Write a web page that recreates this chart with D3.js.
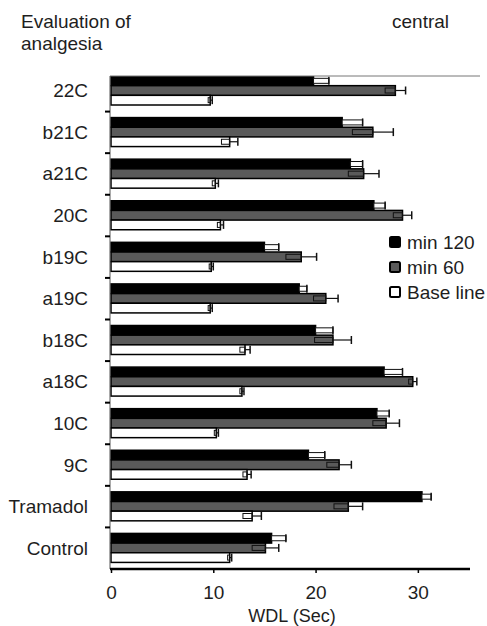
<!DOCTYPE html>
<html>
<head>
<meta charset="utf-8">
<script src="https://cdn.jsdelivr.net/npm/d3@7"></script>
<style>
  body { margin: 0; background: #fff; }
  svg text { font-family: "Liberation Sans", Arial, sans-serif; fill: #1e1e1e; }
</style>
</head>
<body>
<svg id="chart" width="487" height="626"></svg>
<script>
// categories top to bottom
const categories = ["22C", "b21C", "a21C", "20C", "b19C", "a19C", "b18C", "a18C", "10C", "9C", "Tramadol", "Control"]
const seriesNames = ["min 120", "min 60", "Base line"]
const seriesFill = ["#000000", "#5a5a5a", "#ffffff"]

// means (sec)
const min120 = [19.8, 22.6, 23.4, 25.7, 15.0, 18.4, 20.0, 26.7, 26.0, 19.3, 30.4, 15.7]
const min60 = [27.8, 25.6, 24.7, 28.5, 18.6, 21.0, 21.7, 29.5, 26.9, 22.3, 23.2, 15.1]
const baseLine = [9.7, 11.6, 10.2, 10.7, 9.8, 9.7, 13.1, 12.8, 10.3, 13.3, 13.8, 11.6]
// error (sec)
const err120 = [1.5, 2.0, 1.2, 1.1, 1.4, 0.75, 1.7, 1.8, 1.2, 1.6, 0.9, 1.4]
const err60 = [1.0, 2.0, 1.5, 0.9, 1.5, 1.2, 1.8, 0.4, 1.3, 1.2, 1.4, 1.3]
const errBase = [0.2, 0.8, 0.3, 0.3, 0.2, 0.2, 0.5, 0.2, 0.2, 0.4, 0.9, 0.2]

const xTicks = [0, 10, 20, 30]

const values = [min120, min60, baseLine]
const errors = [err120, err60, errBase]

const svg = d3.select("#chart")

const x = d3.scaleLinear().domain([0, 35]).range([111, 469])
const y = d3.scaleBand().domain(categories).range([70, 569])
const yInner = d3.scaleBand().domain(seriesNames).range([6, 35])

const plotTop = 76
const fontSize = "19px"

svg.append("clipPath").attr("id", "clip")
  .append("rect")
  .attr("x", 100).attr("y", plotTop)
  .attr("width", 387).attr("height", 569 - plotTop)

const plot = svg.append("g").attr("clip-path", "url(#clip)")

categories.forEach((cat, ci) => {
  const g = plot.append("g").attr("transform", `translate(0,${y(cat)})`)
  seriesNames.forEach((s, si) => {
    const m = values[si][ci]
    const e = errors[si][ci]
    const by = yInner(s)
    const bh = yInner.bandwidth()
    const cy = by + bh / 2
    g.append("rect")
      .attr("x", x(0))
      .attr("y", by)
      .attr("width", x(m) - x(0))
      .attr("height", bh)
      .attr("fill", seriesFill[si])
      .attr("stroke", "#000")
      .attr("stroke-width", 1.5)
    if (si == 0) {
      // black bars: open box past the bar end
      g.append("rect")
        .attr("x", x(m))
        .attr("y", cy - 2.5)
        .attr("width", x(m + e) - x(m))
        .attr("height", 5)
        .attr("fill", "#fff")
        .attr("stroke", "#111")
        .attr("stroke-width", 1)
    } else {
      // box on the bar end, whisker beyond
      g.append("rect")
        .attr("x", x(m - e))
        .attr("y", cy - 2.5)
        .attr("width", x(m) - x(m - e))
        .attr("height", 5)
        .attr("fill", "none")
        .attr("stroke", "#111")
        .attr("stroke-width", 1)
      g.append("line")
        .attr("x1", x(m)).attr("x2", x(m + e))
        .attr("y1", cy).attr("y2", cy)
        .attr("stroke", "#111").attr("stroke-width", 1.2)
    }
    g.append("line")
      .attr("x1", x(m + e)).attr("x2", x(m + e))
      .attr("y1", cy - 4).attr("y2", cy + 4)
      .attr("stroke", "#111").attr("stroke-width", 1.5)
  })
})

// top border line
svg.append("line")
  .attr("x1", 110).attr("x2", 480)
  .attr("y1", plotTop).attr("y2", plotTop)
  .attr("stroke", "#777").attr("stroke-width", 1)

// left axis
svg.append("line")
  .attr("x1", 110).attr("x2", 110)
  .attr("y1", plotTop).attr("y2", 569)
  .attr("stroke", "#555").attr("stroke-width", 1)

categories.slice(1).forEach(cat => {
  svg.append("line")
    .attr("x1", 105).attr("x2", 110)
    .attr("y1", y(cat)).attr("y2", y(cat))
    .attr("stroke", "#000").attr("stroke-width", 2)
})

svg.append("g")
  .selectAll("text")
  .data(categories)
  .join("text")
  .attr("x", 88)
  .attr("y", d => y(d) + y.bandwidth() / 2 + 6.5)
  .attr("text-anchor", "end")
  .style("font-size", fontSize)
  .text(d => d)

// bottom axis
const xAxis = d3.axisBottom(x).tickValues(xTicks).tickSize(4).tickPadding(13)
const ax = svg.append("g").attr("transform", "translate(0,569)").call(xAxis)
ax.select(".domain").attr("stroke", "#000").attr("stroke-width", 2.5)
  .attr("d", `M${x(0) - 1},0H470`)
ax.selectAll(".tick line").attr("stroke", "#000").attr("stroke-width", 1.5)
ax.selectAll(".tick text")
  .style("font-size", fontSize)
  .style("font-family", "'Liberation Sans', Arial, sans-serif")
  .attr("fill", "#1e1e1e")

svg.append("text")
  .attr("x", 292).attr("y", 622)
  .attr("text-anchor", "middle")
  .style("font-size", "18px")
  .text("WDL (Sec)")

// titles
svg.append("text").attr("x", 21).attr("y", 28).style("font-size", fontSize).text("Evaluation of")
svg.append("text").attr("x", 21).attr("y", 50).style("font-size", fontSize).text("analgesia")
svg.append("text").attr("x", 392).attr("y", 28).style("font-size", fontSize).text("central")

// legend
const legend = svg.append("g").attr("transform", "translate(389,242)")
seriesNames.forEach((s, i) => {
  const row = legend.append("g").attr("transform", `translate(0,${i * 25})`)
  row.append("rect")
    .attr("x", 1).attr("y", -5)
    .attr("width", 10).attr("height", 10)
    .attr("rx", 1.5)
    .attr("fill", seriesFill[i])
    .attr("stroke", "#000").attr("stroke-width", 2)
  row.append("text")
    .attr("x", 18).attr("y", 6.5)
    .style("font-size", fontSize)
    .text(s)
})
</script>
</body>
</html>
